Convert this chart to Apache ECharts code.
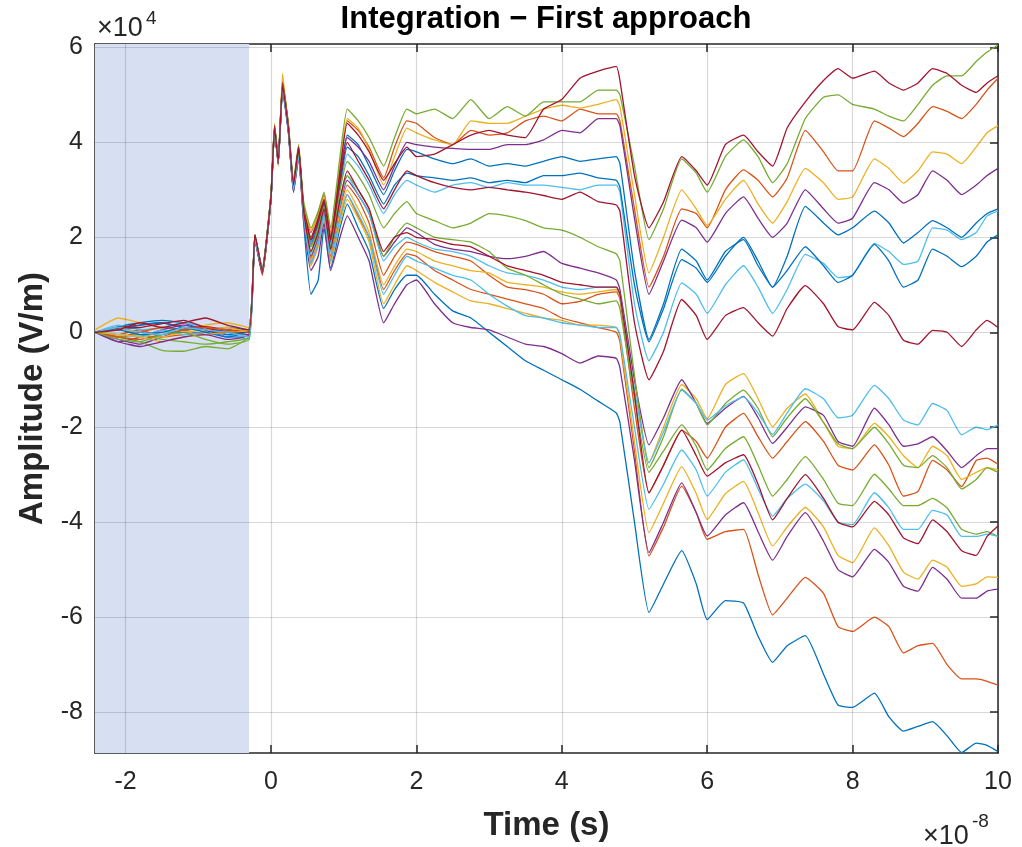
<!DOCTYPE html>
<html>
<head>
<meta charset="utf-8">
<script src="https://cdn.jsdelivr.net/npm/echarts@6/dist/echarts.min.js"></script>
<style>
  html, body { margin: 0; padding: 0; background: #fff; }
  #chart { width: 1022px; height: 847px; }
</style>
</head>
<body>
<div id="chart"></div>
<script>
// time axis, units of 1e-8 s
const T = [
  -2.42, -2.1, -1.8, -1.5, -1.2, -0.9, -0.6, -0.3,
  -0.22, -0.12, 0, 0.05, 0.1, 0.16, 0.24, 0.31, 0.38, 0.45, 0.55, 0.65, 0.73, 0.82, 0.95, 1.05, 1.2, 1.35, 1.55, 1.7, 1.87,
  2.0, 2.25, 2.5, 2.75, 3.0, 3.25, 3.5, 3.75, 4.0, 4.25, 4.5, 4.75,
  4.8, 5.0, 5.2, 5.4, 5.65, 5.85, 6.0, 6.25, 6.5, 6.7, 6.9, 7.1, 7.35, 7.6, 7.8, 8.0, 8.3, 8.5, 8.7, 8.9, 9.1, 9.3, 9.5, 9.7, 9.85, 10
];
const xTicks = [-2, 0, 2, 4, 6, 8, 10];
const yTicks = [-8, -6, -4, -2, 0, 2, 4, 6];

// amplitudes, units of 1e4 V/m
const blue1 = [0, 0.12, 0.2, 0.25, 0.2, 0.05, 0.1, 0.05,
  2.0, 1.35, 2.85, 4.3, 3.65, 5.2, 4.3, 3.1, 3.85, 2.6, 1.9, 2.35, 2.75, 1.95, 3.3, 4.15, 3.95, 3.5, 2.9, 3.4, 3.85,
  3.8, 3.65, 3.55, 3.65, 3.5, 3.55, 3.5, 3.6, 3.7, 3.6, 3.65, 3.7,
  3.55, 1.3, -0.15, 0.6, 1.75, 1.5, 1.1, 1.7, 1.95, 1.4, 0.95, 1.6, 2.65, 2.3, 2.05, 2.2, 2.55, 2.3, 1.88, 2.1, 2.35, 2.2, 2.0, 2.3, 2.5, 2.6];
const orange1 = [0, -0.05, 0.05, -0.1, -0.05, 0.0, 0.05, 0.02,
  1.95, 1.2, 2.85, 4.25, 3.6, 5.3, 4.35, 3.05, 3.85, 2.65, 2.1, 2.5, 2.9, 2.1, 3.5, 4.45, 4.25, 3.9, 3.25, 3.9, 4.45,
  4.4, 4.1, 3.95, 4.25, 4.15, 4.2, 4.45, 4.55, 4.45, 4.7, 4.6, 4.6,
  4.45, 2.6, 0.95, 1.6, 2.6, 2.5, 2.2, 3.0, 3.42, 3.2, 2.85, 3.25, 4.25, 3.8, 3.4, 3.4, 4.45, 4.3, 4.12, 4.4, 4.75, 4.65, 4.5, 4.8, 5.1, 5.35];
const yellow1 = [0.05, 0.3, 0.2, 0.1, 0.05, 0.15, 0.2, 0.1,
  2.05, 1.3, 2.9, 4.4, 3.5, 5.45, 4.25, 3.15, 3.9, 2.7, 2.15, 2.45, 2.85, 2.05, 3.55, 4.5, 4.3, 3.85, 3.1, 3.7, 4.3,
  4.2, 4.05, 3.95, 4.45, 4.4, 4.4, 4.55, 4.7, 4.78, 4.72, 4.8, 4.9,
  4.75, 2.9, 1.25, 2.0, 3.0, 2.6, 2.25, 2.8, 3.2, 2.7, 2.3, 2.75, 3.45, 3.15, 2.8, 2.85, 3.65, 3.45, 3.14, 3.4, 3.8, 3.75, 3.55, 3.9, 4.2, 4.35];
const purple1 = [0, -0.15, -0.25, -0.1, 0.05, 0.1, 0.0, -0.05,
  1.95, 1.3, 2.8, 4.3, 3.6, 5.15, 4.25, 3.0, 3.8, 2.55, 1.95, 2.3, 2.7, 1.95, 3.3, 4.1, 3.9, 3.6, 3.0, 3.5, 4.0,
  3.95, 3.9, 3.87, 3.85, 3.85, 3.95, 3.95, 4.05, 4.25, 4.2, 4.5, 4.5,
  4.35, 2.4, 0.8, 1.5, 2.36, 2.2, 1.9, 2.5, 2.85, 2.4, 2.0, 2.3, 3.0, 2.6, 2.3, 2.4, 3.15, 3.0, 2.72, 2.9, 3.4, 3.2, 2.9, 3.1, 3.3, 3.45];
const green1 = [0, -0.1, -0.2, -0.38, -0.4, -0.3, -0.35, -0.08,
  2.05, 1.35, 2.9, 4.35, 3.7, 5.25, 4.4, 3.2, 3.95, 2.75, 2.2, 2.55, 2.95, 2.2, 3.7, 4.7, 4.45, 4.1, 3.5, 4.1, 4.7,
  4.6, 4.7, 4.5, 4.9, 4.5, 4.75, 4.55, 4.85, 4.85, 4.85, 5.1, 5.1,
  5.0, 3.5, 1.95, 2.6, 3.65, 3.35, 2.95, 3.7, 4.05, 3.7, 3.15, 3.55, 4.5, 4.95, 5.0, 4.8, 4.7, 4.55, 4.45, 4.8, 5.2, 5.4, 5.4, 5.7, 5.9, 6.05];
const lightblue1 = [0, 0.15, 0.05, 0.1, 0.2, 0.1, -0.05, -0.15,
  1.9, 1.3, 2.8, 4.2, 3.6, 5.1, 4.2, 3.0, 3.75, 2.5, 1.8, 2.2, 2.6, 1.85, 3.0, 3.75, 3.5, 3.1, 2.5, 2.9, 3.2,
  3.1, 2.95, 3.1, 3.15, 3.05, 3.15, 3.1, 3.1, 3.05, 3.0, 3.1, 3.1,
  2.95, 0.6, -0.6, 0.0, 1.04, 0.8, 0.4, 1.0, 1.4, 0.95, 0.4, 0.9, 1.64, 1.45, 1.15, 1.2, 1.87, 1.7, 1.43, 1.5, 2.2, 2.15, 1.95, 2.1, 2.45, 2.55];
const darkred1 = [0, 0.1, 0.15, 0.2, 0.1, 0.12, 0.05, 0.0,
  2.0, 1.25, 2.8, 4.3, 3.55, 5.2, 4.3, 3.1, 3.9, 2.6, 2.0, 2.4, 2.8, 2.0, 3.4, 4.4, 4.15, 3.8, 3.2, 3.55, 3.9,
  3.7, 3.75, 3.95, 4.15, 4.25, 4.15, 4.1, 4.7, 4.9, 5.35, 5.5, 5.6,
  5.3, 3.3, 2.2, 2.75, 3.7, 3.4, 3.1, 3.95, 4.15, 3.8, 3.5, 4.3, 4.85, 5.3, 5.55, 5.35, 5.5, 5.25, 5.1, 5.25, 5.55, 5.45, 5.2, 5.05, 5.25, 5.4];

const blue2 = [0, 0.05, 0.15, 0.2, 0.1, 0.05, -0.05, 0.05,
  2.0, 1.3, 2.85, 4.3, 3.6, 5.15, 4.25, 3.05, 3.8, 2.55, 1.85, 2.25, 2.65, 1.9, 3.1, 3.9, 3.7, 3.3, 2.7, 3.1, 3.35,
  3.3, 3.25, 3.2, 3.25, 3.15, 3.2, 3.15, 3.3, 3.3, 3.35, 3.25, 3.2,
  3.05, 1.0, -0.2, 0.5, 1.53, 1.35, 1.05, 1.6, 2.0, 1.5, 0.95, 1.3, 1.8, 1.4, 1.05, 1.2, 1.85, 1.5, 0.95, 1.1, 1.75, 1.6, 1.38, 1.6, 1.9, 2.05];
const orange2 = [0, -0.1, 0.0, 0.1, 0.05, -0.05, 0.0, 0.05,
  1.95, 1.25, 2.85, 4.25, 3.6, 5.2, 4.3, 3.0, 3.75, 2.45, 1.55, 1.95, 2.5, 1.6, 2.6, 3.1, 2.8, 2.3, 1.2, 1.6, 1.9,
  1.85, 1.7, 1.6, 1.5, 1.2, 0.95, 0.9, 0.8, 0.6, 0.65, 0.8, 0.85,
  0.7, -1.6, -3.38, -2.8, -2.06, -2.3, -2.65, -2.0, -1.71, -2.2, -2.65, -2.3, -1.88, -2.3, -2.8, -2.9, -2.37, -2.8, -3.45, -3.35, -2.7, -2.9, -3.25, -2.7, -2.65, -2.78];
const yellow2 = [0, 0.1, -0.05, -0.1, 0.0, 0.05, 0.1, 0.0,
  2.0, 1.25, 2.85, 4.35, 3.55, 5.25, 4.3, 3.05, 3.8, 2.5, 1.5, 1.95, 2.5, 1.55, 2.5, 3.0, 2.6, 2.1, 1.0, 1.4, 1.75,
  1.7, 1.5, 1.4, 1.3, 1.25, 1.05, 1.0, 0.95, 0.85, 0.8, 0.85, 0.9,
  0.75, -1.0, -2.75, -2.0, -1.1, -1.4, -1.82, -1.1, -0.87, -1.4, -1.99, -1.6, -1.3, -1.9, -2.4, -2.45, -1.92, -2.2, -2.6, -2.85, -2.4, -2.6, -3.1, -2.95, -2.85, -2.9];
const purple2 = [0, -0.2, -0.1, 0.05, 0.15, 0.05, -0.1, -0.05,
  1.95, 1.25, 2.8, 4.25, 3.55, 5.15, 4.25, 3.05, 3.8, 2.5, 1.6, 2.0, 2.55, 1.7, 2.7, 3.2, 2.9, 2.5, 1.6, 1.9, 2.2,
  2.1, 1.85, 1.75, 1.7, 1.6, 1.55, 1.6, 1.7, 1.45, 1.35, 1.25, 1.1,
  0.9, -1.0, -2.37, -1.8, -1.0, -1.5, -1.92, -1.6, -1.35, -1.8, -2.34, -2.0, -1.57, -1.75, -2.3, -2.4, -1.6, -1.95, -2.4, -2.35, -2.2, -2.5, -2.85, -2.6, -2.45, -2.45];
const green2 = [0, -0.1, -0.05, -0.15, -0.2, -0.25, -0.2, -0.1,
  2.0, 1.3, 2.85, 4.3, 3.6, 5.2, 4.35, 3.15, 3.85, 2.6, 1.8, 2.2, 2.65, 1.8, 3.0, 3.6, 3.3, 2.9, 2.2, 2.5, 2.75,
  2.5, 2.35, 2.2, 2.3, 2.5, 2.45, 2.35, 2.2, 2.15, 2.0, 1.8, 1.65,
  1.5, -0.9, -2.85, -2.2, -1.2, -1.5, -1.95, -1.5, -1.22, -1.6, -2.2, -1.8, -1.4, -1.9, -2.35, -2.45, -2.0, -2.35, -2.8, -2.85, -2.6, -2.85, -3.3, -3.1, -2.85, -2.95];
const lightblue2 = [0, -0.05, -0.1, 0.05, -0.05, 0.0, -0.1, -0.05,
  2.0, 1.3, 2.8, 4.3, 3.55, 5.1, 4.25, 3.05, 3.8, 2.5, 1.65, 2.05, 2.55, 1.7, 2.7, 3.3, 2.9, 2.5, 1.5, 1.8, 2.0,
  1.9, 1.75, 1.7, 1.6, 1.4, 1.25, 1.2, 1.1, 0.95, 0.9, 0.95, 0.95,
  0.8, -1.2, -2.75, -2.1, -1.22, -1.5, -1.85, -1.55, -1.36, -1.7, -2.15, -1.7, -1.19, -1.4, -1.8, -1.75, -1.12, -1.4, -1.85, -1.95, -1.5, -1.65, -2.16, -2.0, -2.05, -1.95];
const darkred2 = [0, 0.08, 0.1, 0.18, 0.25, 0.1, 0.0, 0.02,
  2.05, 1.3, 2.9, 4.35, 3.65, 5.25, 4.35, 3.1, 3.9, 2.6, 1.95, 2.35, 2.75, 1.95, 3.2, 4.0, 3.6, 3.2, 2.6, 3.0, 3.4,
  3.3, 3.15, 3.05, 3.0, 3.05, 3.0, 2.95, 2.88, 2.8, 2.95, 2.75, 2.68,
  2.55, 0.2, -1.0, -0.4, 0.69, 0.35, -0.15, 0.35, 0.52, 0.2, -0.08, 0.5, 0.98, 0.6, 0.12, 0.05, 0.63, 0.35, -0.17, -0.25, 0.04, 0.0, -0.3, 0.05, 0.25, 0.1];

const blue3 = [0, 0.05, -0.05, 0.0, 0.1, 0.0, -0.1, 0.05,
  2.0, 1.3, 2.85, 4.3, 3.6, 5.15, 4.25, 2.95, 3.7, 2.3, 0.8, 1.1, 2.2, 1.35, 2.2, 2.7, 2.2, 1.7, 0.5, 0.9, 1.2,
  1.2, 0.8, 0.45, 0.3, 0.0, -0.3, -0.6, -0.8, -1.0, -1.2, -1.45, -1.7,
  -1.9, -4.0, -5.9, -5.3, -4.6, -5.3, -6.05, -5.65, -5.7, -6.4, -6.95, -6.6, -6.39, -7.2, -7.85, -7.9, -7.6, -8.1, -8.4, -8.3, -8.2, -8.5, -8.85, -8.65, -8.7, -8.83];
const orange3 = [0, -0.1, -0.15, -0.05, 0.05, 0.1, 0.05, 0.0,
  2.0, 1.25, 2.8, 4.3, 3.55, 5.15, 4.25, 3.0, 3.75, 2.4, 1.45, 1.85, 2.4, 1.5, 2.4, 2.9, 2.45, 2.0, 0.9, 1.3, 1.65,
  1.6, 1.3, 1.1, 0.9, 0.8, 0.7, 0.6, 0.5, 0.3, 0.2, 0.1, 0.0,
  -0.2, -2.5, -4.71, -4.1, -3.24, -3.8, -4.36, -4.2, -4.15, -5.1, -5.95, -5.6, -5.16, -5.5, -6.2, -6.3, -6.0, -6.2, -6.75, -6.6, -6.55, -7.0, -7.3, -7.3, -7.35, -7.43];
const yellow3 = [0, -0.05, -0.1, -0.2, -0.1, -0.05, 0.0, 0.05,
  2.0, 1.3, 2.85, 4.3, 3.6, 5.2, 4.3, 3.05, 3.75, 2.4, 1.4, 1.8, 2.4, 1.45, 2.3, 2.8, 2.4, 1.9, 0.6, 1.0, 1.4,
  1.3, 1.05, 0.85, 0.66, 0.6, 0.5, 0.4, 0.3, 0.25, 0.15, 0.15, 0.1,
  -0.1, -2.3, -4.22, -3.6, -2.83, -3.4, -3.94, -3.4, -3.14, -3.8, -4.5, -4.1, -3.69, -4.1, -4.7, -4.85, -4.12, -4.5, -5.05, -5.2, -4.8, -4.95, -5.35, -5.3, -5.15, -5.16];
const purple3 = [0, -0.2, -0.3, -0.2, -0.1, -0.05, -0.15, -0.05,
  1.95, 1.25, 2.8, 4.25, 3.55, 5.1, 4.2, 2.95, 3.65, 2.35, 1.3, 1.6, 2.3, 1.3, 2.0, 2.45, 2.0, 1.5, 0.2, 0.6, 1.0,
  1.1, 0.6, 0.2, 0.1, 0.05, -0.1, -0.25, -0.3, -0.45, -0.65, -0.5, -0.55,
  -0.75, -2.7, -4.64, -4.0, -3.17, -3.8, -4.29, -3.85, -3.59, -4.2, -4.8, -4.3, -3.8, -4.4, -5.0, -5.15, -4.57, -4.85, -5.35, -5.45, -4.95, -5.2, -5.6, -5.6, -5.45, -5.41];
const green3 = [0, -0.15, -0.2, -0.05, 0.0, -0.15, -0.25, -0.15,
  2.0, 1.3, 2.9, 4.3, 3.6, 5.2, 4.3, 3.1, 3.8, 2.55, 1.7, 2.15, 2.6, 1.75, 2.8, 3.3, 3.0, 2.6, 1.6, 2.0, 2.3,
  2.2, 2.0, 1.95, 1.9, 1.7, 1.35, 1.2, 1.0, 0.8, 0.7, 0.6, 0.66,
  0.5, -1.4, -2.95, -2.5, -1.95, -2.4, -2.9, -2.45, -2.2, -2.8, -3.45, -3.1, -2.62, -3.1, -3.6, -3.65, -2.99, -3.3, -3.65, -3.65, -3.5, -3.7, -4.15, -4.25, -4.2, -4.3];
const lightblue3 = [0, 0.1, 0.0, -0.05, 0.1, 0.05, 0.0, -0.1,
  1.95, 1.3, 2.8, 4.25, 3.6, 5.15, 4.25, 3.0, 3.7, 2.45, 1.45, 1.85, 2.45, 1.5, 2.4, 2.9, 2.5, 2.0, 0.8, 1.2, 1.6,
  1.5, 1.35, 1.2, 1.1, 0.8, 0.55, 0.35, 0.3, 0.2, 0.15, 0.1, 0.1,
  -0.05, -2.0, -3.73, -3.2, -2.48, -2.9, -3.45, -2.95, -2.69, -3.3, -3.87, -3.5, -3.2, -3.55, -4.0, -4.05, -3.38, -3.7, -4.15, -4.15, -3.75, -3.85, -4.3, -4.3, -4.25, -4.3];
const darkred3 = [0, 0.05, 0.2, 0.1, 0.2, 0.3, 0.15, 0.05,
  2.05, 1.3, 2.85, 4.3, 3.6, 5.2, 4.3, 3.1, 3.85, 2.55, 1.7, 2.1, 2.6, 1.75, 2.8, 3.4, 3.0, 2.6, 1.7, 2.0, 2.1,
  2.0, 1.95, 1.85, 1.8, 1.6, 1.4, 1.3, 1.2, 1.05, 1.0, 0.95, 0.95,
  0.8, -1.3, -3.38, -2.8, -2.06, -2.6, -3.03, -2.75, -2.58, -3.2, -3.95, -3.5, -3.0, -3.5, -4.0, -4.1, -3.56, -3.85, -4.33, -4.45, -3.95, -4.2, -4.6, -4.7, -4.3, -4.08];

const curves = [
  ['#0072BD', blue1], ['#D95319', orange1], ['#EDB120', yellow1], ['#7E2F8E', purple1],
  ['#77AC30', green1], ['#4DBEEE', lightblue1], ['#A2142F', darkred1],
  ['#0072BD', blue2], ['#D95319', orange2], ['#EDB120', yellow2], ['#7E2F8E', purple2],
  ['#77AC30', green2], ['#4DBEEE', lightblue2], ['#A2142F', darkred2],
  ['#0072BD', blue3], ['#D95319', orange3], ['#EDB120', yellow3], ['#7E2F8E', purple3],
  ['#77AC30', green3], ['#4DBEEE', lightblue3], ['#A2142F', darkred3]
];

const FONT = 'Liberation Sans, Arial, Helvetica, sans-serif';
const INK = '#262626';
const X_MIN = -2.42, X_MAX = 10, Y_MIN = -8.86, Y_MAX = 6.07;
const SHADE_END = -0.3;

const chart = echarts.init(document.getElementById('chart'));

const axisLine = { show: true, onZero: false, lineStyle: { color: INK, width: 1.5 } };
const tickStyle = { color: INK, width: 1.5 };

const series = [
  {
    type: 'line', data: [], silent: true,
    markArea: {
      silent: true,
      itemStyle: { color: '#d7e0f2' },
      data: [[{ xAxis: X_MIN }, { xAxis: SHADE_END }]]
    }
  },
  {
    type: 'line', data: [], silent: true,
    markLine: {
      silent: true, symbol: 'none', animation: false,
      label: { show: false },
      lineStyle: { color: 'rgba(38,38,38,0.18)', width: 1.2, type: 'solid' },
      data: xTicks.map(v => ({ xAxis: v })).concat(yTicks.map(v => ({ yAxis: v })))
    }
  }
].concat(curves.map(([color, vals]) => ({
  type: 'line',
  data: T.map((t, i) => [t, vals[i]]),
  showSymbol: false,
  symbol: 'none',
  smooth: 0.15,
  lineStyle: { color, width: 1.3 },
  itemStyle: { color },
  silent: true
})));

chart.setOption({
  animation: false,
  backgroundColor: '#fff',
  grid: { left: 95, top: 44, right: 24, bottom: 89 },
  xAxis: [
    {
      type: 'value', min: X_MIN, max: X_MAX, position: 'bottom',
      axisLine,
      axisTick: { show: true, inside: true, length: 8, customValues: xTicks, lineStyle: tickStyle },
      axisLabel: { customValues: xTicks, fontSize: 25, color: INK, fontFamily: FONT, margin: 17 },
      splitLine: { show: false },
      name: 'Time (s)', nameLocation: 'middle', nameGap: 56,
      nameTextStyle: { fontSize: 33, fontWeight: 'bold', color: INK, fontFamily: FONT }
    },
    {
      type: 'value', min: X_MIN, max: X_MAX, position: 'top',
      axisLine,
      axisTick: { show: true, inside: true, length: 8, customValues: xTicks, lineStyle: tickStyle },
      axisLabel: { show: false },
      splitLine: { show: false }
    }
  ],
  yAxis: [
    {
      type: 'value', min: Y_MIN, max: Y_MAX, position: 'left',
      axisLine,
      axisTick: { show: true, inside: true, length: 8, customValues: yTicks, lineStyle: tickStyle },
      axisLabel: { customValues: yTicks, fontSize: 25, color: INK, fontFamily: FONT, margin: 12 },
      splitLine: { show: false },
      name: 'Amplitude (V/m)', nameLocation: 'middle', nameGap: 46,
      nameTextStyle: { fontSize: 33, fontWeight: 'bold', color: INK, fontFamily: FONT }
    },
    {
      type: 'value', min: Y_MIN, max: Y_MAX, position: 'right',
      axisLine,
      axisTick: { show: true, inside: true, length: 8, customValues: yTicks, lineStyle: tickStyle },
      axisLabel: { show: false },
      splitLine: { show: false }
    }
  ],
  series,
  graphic: [
    { type: 'text', x: 546, y: 4, style: { text: 'Integration \u2212 First approach', font: 'bold 31px ' + FONT, fill: '#000', textAlign: 'center', textVerticalAlign: 'top' } },
    { type: 'text', x: 97, y: 15, style: { text: '\u00d710', font: '27px ' + FONT, fill: INK, textVerticalAlign: 'top' } },
    { type: 'text', x: 146, y: 9, style: { text: '4', font: '19px ' + FONT, fill: INK, textVerticalAlign: 'top' } },
    { type: 'text', x: 923, y: 823, style: { text: '\u00d710', font: '27px ' + FONT, fill: INK, textVerticalAlign: 'top' } },
    { type: 'text', x: 972, y: 812, style: { text: '-8', font: '19px ' + FONT, fill: INK, textVerticalAlign: 'top' } }
  ]
});
</script>
</body>
</html>
